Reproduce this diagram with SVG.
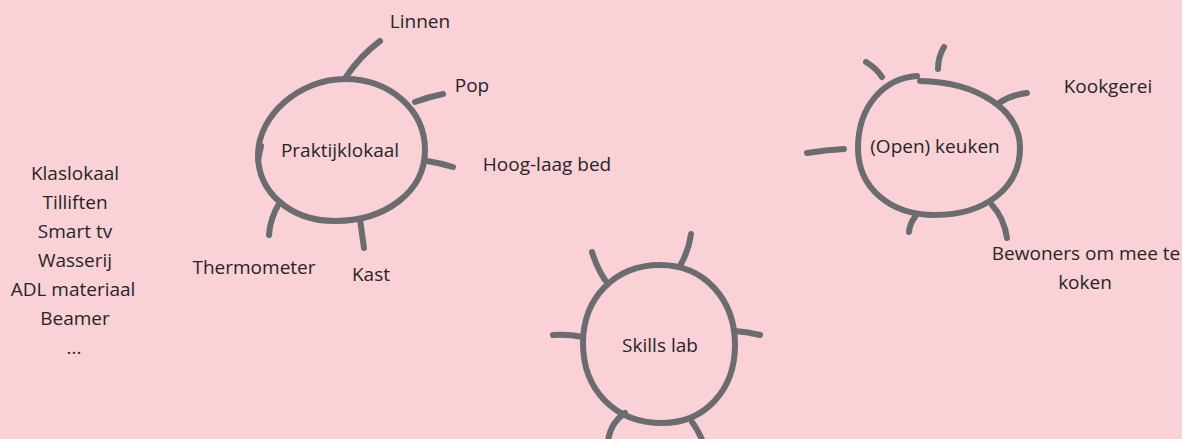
<svg xmlns="http://www.w3.org/2000/svg" width="1182" height="439" viewBox="0 0 1182 439">
<style>
.bg{fill:#f9d1d7}
.ring{fill:none;stroke:#6b6c6f;stroke-width:6;stroke-linecap:round;stroke-linejoin:round}
.spoke{fill:none;stroke:#6b6c6f;stroke-width:6;stroke-linecap:round}
text{font-family:"Open Sans","Liberation Sans",sans-serif;font-size:19px;fill:#262626;text-anchor:middle}
</style>
<rect class="bg" x="0" y="0" width="1182" height="439"/>
<g id="connectors">
<path class="spoke" d="M346,77 Q360,56 380,41"/>
<path class="spoke" d="M415,102 Q428,97 443,94"/>
<path class="spoke" d="M427,161 Q440,163 453,167"/>
<path class="spoke" d="M360,219 Q362,234 364,248"/>
<path class="spoke" d="M280,202 Q270,218 269,235"/>
<path class="spoke" d="M261,146 L258,160"/>
<path class="spoke" d="M807,153 Q825,150 844,149"/>
<path class="spoke" d="M866,62 Q876,68 882,77"/>
<path class="spoke" d="M944,47 Q938,57 938,69"/>
<path class="spoke" d="M999,103 Q1011,95 1027,93"/>
<path class="spoke" d="M915,217 Q910,223 909,232"/>
<path class="spoke" d="M992,205 Q1004,218 1007,238"/>
<path class="spoke" d="M592,252 Q597,268 605,280"/>
<path class="spoke" d="M691,234 Q689,250 680,266"/>
<path class="spoke" d="M553,335 Q568,334 583,337"/>
<path class="spoke" d="M735,331 Q748,332 760,335"/>
<path class="spoke" d="M625,413 Q610,423 608,442"/>
<path class="spoke" d="M692,422 Q698,430 703,442"/>
</g>
<g id="node-praktijklokaal">
<path class="ring" d="M345,79 C390,79 425,110 425,150 C425,192 385,221 335,221 C290,221 258,192 258,155 C258,115 300,79 345,79 Z"/>
<text x="340" y="157">Praktijklokaal</text>
</g>
<g id="node-keuken">
<path class="ring" d="M920,81 C975,82 1020,108 1020,148 C1020,188 985,215 935,215 C890,215 858,188 858,148 C858,105 885,78 917,76"/>
<text x="935" y="153">(Open) keuken</text>
</g>
<g id="node-skillslab">
<path class="ring" d="M660,265 C705,265 735,300 735,345 C735,390 705,423 662,423 C615,423 583,390 583,343 C583,298 615,265 660,265 Z"/>
<text x="660" y="352">Skills lab</text>
</g>
<g id="label-linnen"><text x="420" y="28">Linnen</text></g>
<g id="label-pop"><text x="472" y="92">Pop</text></g>
<g id="label-hoog"><text x="547" y="171">Hoog-laag bed</text></g>
<g id="label-thermometer"><text x="254" y="274">Thermometer</text></g>
<g id="label-kast"><text x="371" y="281">Kast</text></g>
<g id="label-kookgerei"><text x="1108" y="93">Kookgerei</text></g>
<g id="label-bewoners"><text x="1086" y="260">Bewoners om mee te</text><text x="1085" y="289">koken</text></g>
<g id="label-list">
<text x="75" y="180">Klaslokaal</text>
<text x="75" y="209">Tilliften</text>
<text x="75" y="238">Smart tv</text>
<text x="75" y="267">Wasserij</text>
<text x="73" y="296">ADL materiaal</text>
<text x="75" y="325">Beamer</text>
<text x="74" y="354">...</text>
</g>
</svg>
